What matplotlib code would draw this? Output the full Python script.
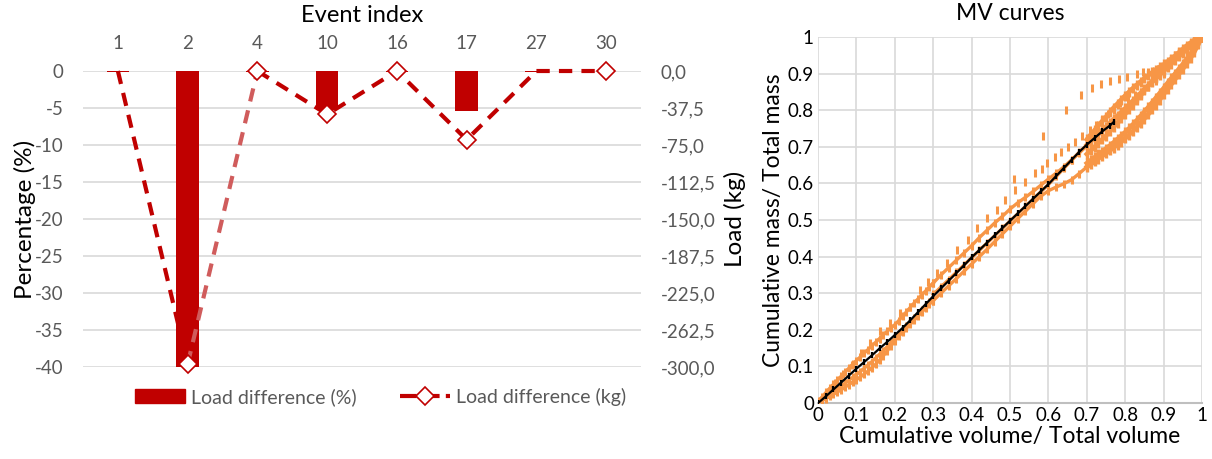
import numpy as np
import matplotlib.pyplot as plt
from matplotlib.lines import Line2D
from matplotlib.patches import Patch
from matplotlib.ticker import FuncFormatter

plt.rcParams['font.family'] = ['Lato', 'DejaVu Sans']
plt.rcParams['axes.unicode_minus'] = False

# Load difference per event
events = ['1', '2', '4', '10', '16', '17', '27', '30']
load_pct = [-0.08, -40.0, -0.08, -5.3, -0.08, -5.4, -0.08, 0.0]
load_kg = [0.0, -297.0, 0.0, -43.9, 0.0, -69.6, 0.0, 0.0]

# MV curves: cumulative volume (x) / cumulative mass (y)
low_x = [0.00, 0.01, 0.02, 0.03, 0.04, 0.05, 0.06, 0.07, 0.08, 0.09, 0.10, 0.11, 0.12, 0.13,
         0.14, 0.15, 0.16, 0.17, 0.18, 0.19, 0.20, 0.21, 0.22, 0.23, 0.24, 0.25, 0.26, 0.27,
         0.28, 0.29, 0.30]
low_b = [0.0, 0.006, 0.012, 0.018, 0.024, 0.03, 0.036, 0.043, 0.05, 0.057, 0.064, 0.071, 0.079,
         0.087, 0.096, 0.106, 0.117, 0.129, 0.142, 0.156, 0.17, 0.182, 0.193, 0.204, 0.215,
         0.226, 0.237, 0.248, 0.259, 0.27, 0.28]
low_b2 = [0.003, 0.009, 0.016, 0.024, 0.031, 0.039, 0.046, 0.054, 0.062, 0.07, 0.078, 0.086,
          0.095, 0.104, 0.113, 0.123, 0.133, 0.143, 0.154, 0.165, 0.177, 0.188, 0.199, 0.21,
          0.221, 0.232, 0.243, 0.254, 0.265, 0.276, 0.287]
low_c = [0.005, 0.016, 0.028, 0.04, 0.051, 0.062, 0.073, 0.084, 0.095, 0.106, 0.116, 0.126,
         0.136, 0.146, 0.156, 0.166, 0.176, 0.186, 0.196, 0.205, 0.214, 0.225, 0.237, 0.249,
         0.261, 0.273, 0.284, 0.295, 0.306, 0.317, 0.328]

mid_x = [0.30, 0.32, 0.34, 0.36, 0.38, 0.40, 0.42, 0.44, 0.46, 0.48, 0.50, 0.52, 0.54, 0.56,
         0.58, 0.60, 0.62, 0.64, 0.66, 0.68, 0.70]
mid_a = [0.297, 0.317, 0.337, 0.357, 0.377, 0.397, 0.417, 0.437, 0.457, 0.477, 0.497, 0.517,
         0.537, 0.557, 0.577, 0.597, 0.619, 0.641, 0.663, 0.685, 0.705]
mid_b = [0.28, 0.30, 0.32, 0.34, 0.36, 0.38, 0.40, 0.42, 0.441, 0.462, 0.483, 0.504, 0.524,
         0.545, 0.565, 0.58, 0.59, 0.599, 0.61, 0.627, 0.645]
mid_c = [0.328, 0.35, 0.37, 0.39, 0.41, 0.43, 0.452, 0.472, 0.492, 0.51, 0.53, 0.547, 0.562,
         0.578, 0.595, 0.612, 0.628, 0.645, 0.664, 0.683, 0.703]

band_x = [0.70, 0.71, 0.72, 0.73, 0.74, 0.75, 0.76, 0.77, 0.78, 0.79, 0.80, 0.81, 0.82, 0.83,
          0.84, 0.85, 0.86, 0.87, 0.88, 0.89, 0.90, 0.91, 0.92, 0.93, 0.94, 0.95, 0.96, 0.97,
          0.98, 0.99, 1.00]
band_b = [0.645, 0.652, 0.66, 0.668, 0.675, 0.682, 0.69, 0.698, 0.706, 0.714, 0.723, 0.733,
          0.743, 0.754, 0.765, 0.777, 0.789, 0.802, 0.815, 0.829, 0.843, 0.857, 0.871, 0.885,
          0.899, 0.913, 0.928, 0.943, 0.96, 0.98, 1.0]
band_b2 = [0.655, 0.663, 0.671, 0.679, 0.687, 0.695, 0.703, 0.712, 0.721, 0.73, 0.74, 0.75,
           0.761, 0.772, 0.784, 0.796, 0.808, 0.821, 0.834, 0.847, 0.86, 0.874, 0.887, 0.9,
           0.913, 0.926, 0.94, 0.954, 0.968, 0.984, 1.0]
band_f = [0.68, 0.69, 0.70, 0.71, 0.72, 0.73, 0.742, 0.754, 0.766, 0.778, 0.79, 0.802, 0.815,
          0.828, 0.841, 0.854, 0.867, 0.88, 0.892, 0.904, 0.915, 0.926, 0.937, 0.948, 0.958,
          0.967, 0.976, 0.984, 0.991, 0.996, 1.0]
band_a = [0.705, 0.715, 0.725, 0.735, 0.745, 0.755, 0.765, 0.775, 0.785, 0.795, 0.805, 0.815,
          0.826, 0.836, 0.847, 0.857, 0.867, 0.877, 0.887, 0.897, 0.907, 0.917, 0.927, 0.937,
          0.947, 0.957, 0.966, 0.975, 0.984, 0.992, 1.0]
band_g = [0.72, 0.733, 0.745, 0.758, 0.77, 0.782, 0.795, 0.807, 0.818, 0.829, 0.84, 0.85,
          0.86, 0.869, 0.878, 0.887, 0.895, 0.903, 0.91, 0.918, 0.925, 0.933, 0.94, 0.948,
          0.955, 0.963, 0.97, 0.978, 0.985, 0.993, 1.0]

# two sparse events that sit above the main band
sparse_d = [(0.511, 0.611), (0.587, 0.73), (0.646, 0.80), (0.685, 0.842), (0.713, 0.862),
            (0.737, 0.872), (0.76, 0.88), (0.783, 0.886), (0.805, 0.892), (0.83, 0.90),
            (0.845, 0.903), (0.86, 0.905), (0.875, 0.908), (0.885, 0.913), (0.9, 0.92),
            (0.92, 0.933), (0.94, 0.948), (0.96, 0.963), (0.98, 0.98), (1, 1)]
sparse_e = [(0.02, 0.03), (0.043, 0.055), (0.065, 0.08), (0.087, 0.105), (0.113, 0.136),
            (0.135, 0.164), (0.16, 0.196), (0.187, 0.218), (0.214, 0.245), (0.24, 0.263),
            (0.266, 0.31), (0.287, 0.331), (0.31, 0.356), (0.335, 0.382), (0.361, 0.418),
            (0.39, 0.445), (0.413, 0.477), (0.439, 0.505), (0.465, 0.527), (0.487, 0.555),
            (0.513, 0.582), (0.54, 0.605), (0.565, 0.628), (0.582, 0.638), (0.597, 0.656),
            (0.617, 0.673), (0.633, 0.686), (0.652, 0.70), (0.67, 0.714), (0.687, 0.73),
            (0.708, 0.746), (0.725, 0.76), (0.739, 0.775), (0.756, 0.79), (0.77, 0.80),
            (0.786, 0.819), (0.806, 0.83), (0.826, 0.842), (0.84, 0.85), (0.86, 0.865),
            (0.88, 0.88), (0.9, 0.9)]

# reference event, drawn in black
mv_black = [(0, 0), (0.02, 0.018), (0.04, 0.037), (0.06, 0.056), (0.08, 0.075), (0.1, 0.094),
            (0.12, 0.112), (0.14, 0.13), (0.16, 0.149), (0.18, 0.167), (0.2, 0.186), (0.22, 0.205),
            (0.24, 0.226), (0.26, 0.248), (0.28, 0.27), (0.3, 0.292), (0.32, 0.313), (0.34, 0.334),
            (0.36, 0.355), (0.38, 0.376), (0.4, 0.398), (0.42, 0.418), (0.44, 0.438), (0.46, 0.458),
            (0.48, 0.478), (0.5, 0.498), (0.52, 0.518), (0.54, 0.538), (0.56, 0.558), (0.58, 0.578),
            (0.6, 0.598), (0.62, 0.62), (0.64, 0.642), (0.66, 0.664), (0.68, 0.686), (0.7, 0.706),
            (0.72, 0.724), (0.74, 0.742), (0.76, 0.758), (0.77, 0.768)]

red = '#C00000'
red_light = '#D05C5C'
orange = '#F79646'
grey_txt = '#595959'
grid_c = '#D9D9D9'

fig = plt.figure(figsize=(12.12, 4.59), dpi=100)

# ---- left: load difference ----
ax = fig.add_axes([0.0685, 0.2004, 0.4604, 0.6449])
x = np.arange(len(events))
ax.bar(x, load_pct, width=0.32, color=red, zorder=2, clip_on=False)
ax.set_xlim(-0.5, len(events) - 0.5)
ax.set_ylim(-40, 0)
ax.set_yticks(np.arange(-40, 1, 5))
ax.yaxis.grid(True, color=grid_c, lw=1.2, zorder=0)
ax.set_axisbelow(True)
ax.set_xticks(x)
ax.set_xticklabels(events)
ax.xaxis.tick_top()
ax.tick_params(axis='x', length=0, pad=14, labelsize=13.5, labelcolor=grey_txt)
ax.tick_params(axis='y', length=0, pad=14, labelsize=13.5, labelcolor=grey_txt)
for s in ax.spines.values():
    s.set_visible(False)
ax.set_ylabel('Percentage (%)', fontsize=17.5, labelpad=-1)
ax.set_title('Event index', fontsize=17, pad=35)

ax2 = ax.twinx()
ax2.set_ylim(-300, 0)
ax2.set_yticks(np.arange(-300, 0.1, 37.5))
ax2.yaxis.set_major_formatter(FuncFormatter(lambda v, p: f'{v:.1f}'.replace('.', ',')))
ax2.tick_params(axis='y', length=0, pad=14, labelsize=13.5, labelcolor=grey_txt)
for s in ax2.spines.values():
    s.set_visible(False)
ax2.set_ylabel('Load (kg)', fontsize=17.5, labelpad=6)

dash = dict(lw=3, dashes=(3.2, 2.2), zorder=4, clip_on=False, dash_capstyle='butt')
ax2.plot(x[0:2], load_kg[0:2], color=red, **dash)
ax2.plot(x[1:3], load_kg[1:3], color=red_light, **dash)
ax2.plot(x[2:], load_kg[2:], color=red, **dash)
mk = [1, 2, 3, 4, 5, 7]
ax2.plot(x[mk], np.array(load_kg)[mk], ls='none', marker='D', ms=9, mfc='white',
         mec=red, mew=1.2, zorder=5, clip_on=False)

handles = [Patch(color=red),
           Line2D([], [], color=red, lw=3, dashes=(4, 1.5), marker='D', ms=9,
                  mfc='white', mec=red, mew=1.2)]
fig.legend(handles, ['Load difference (%)', 'Load difference (kg)'], loc='center',
           bbox_to_anchor=(0.314, 0.135), ncol=2, frameon=False, fontsize=14,
           labelcolor=grey_txt, handlelength=2.6, handletextpad=0.3, columnspacing=2.2)

# ---- right: MV curves ----
bx = fig.add_axes([0.675, 0.122, 0.3168, 0.7974])
dots = dict(ls='none', marker='|', ms=5.5, mew=2.2, color=orange, zorder=3)
dense = dict(ls='-', lw=2.4, marker='|', ms=6, mew=2.2, color=orange, zorder=3)
thick = dict(ls='-', lw=3.4, marker='|', ms=7, mew=2.4, color=orange, zorder=3)
for pts in [sparse_e, sparse_d]:
    px, py = zip(*pts)
    bx.plot(px, py, **dots)
for ys in [low_b, low_b2, low_c]:
    bx.plot(low_x, ys, **dense)
for ys in [mid_b, mid_c, mid_a]:
    bx.plot(mid_x, ys, **dense)
for ys in [band_b, band_b2, band_f, band_a, band_g]:
    bx.plot(band_x, ys, **thick)
kx, ky = zip(*mv_black)
bx.plot(kx, ky, color='black', lw=1.6, marker='|', ms=4.5, mew=1.6, zorder=4)

bx.set_xlim(0, 1)
bx.set_ylim(0, 1)
ticks = np.round(np.arange(0, 1.01, 0.1), 1)
tick_lbl = ['0'] + [f'{t:g}' for t in ticks[1:-1]] + ['1']
bx.set_xticks(ticks)
bx.set_xticklabels(tick_lbl)
bx.set_yticks(ticks)
bx.set_yticklabels(tick_lbl)
bx.grid(True, color=grid_c, lw=1.2, zorder=0)
bx.set_axisbelow(True)
for s in bx.spines.values():
    s.set_visible(False)
bx.spines['bottom'].set_visible(True)
bx.spines['bottom'].set_color('#BFBFBF')
bx.spines['bottom'].set_linewidth(1.5)
bx.tick_params(length=0, labelsize=13.5, pad=3)
bx.set_xlabel('Cumulative volume/ Total volume', fontsize=16.5, labelpad=1)
bx.set_ylabel('Cumulative mass/ Total mass', fontsize=16.5, labelpad=3)
bx.set_title('MV curves', fontsize=16.5, pad=12)

fig.savefig('out.png', dpi=100)
